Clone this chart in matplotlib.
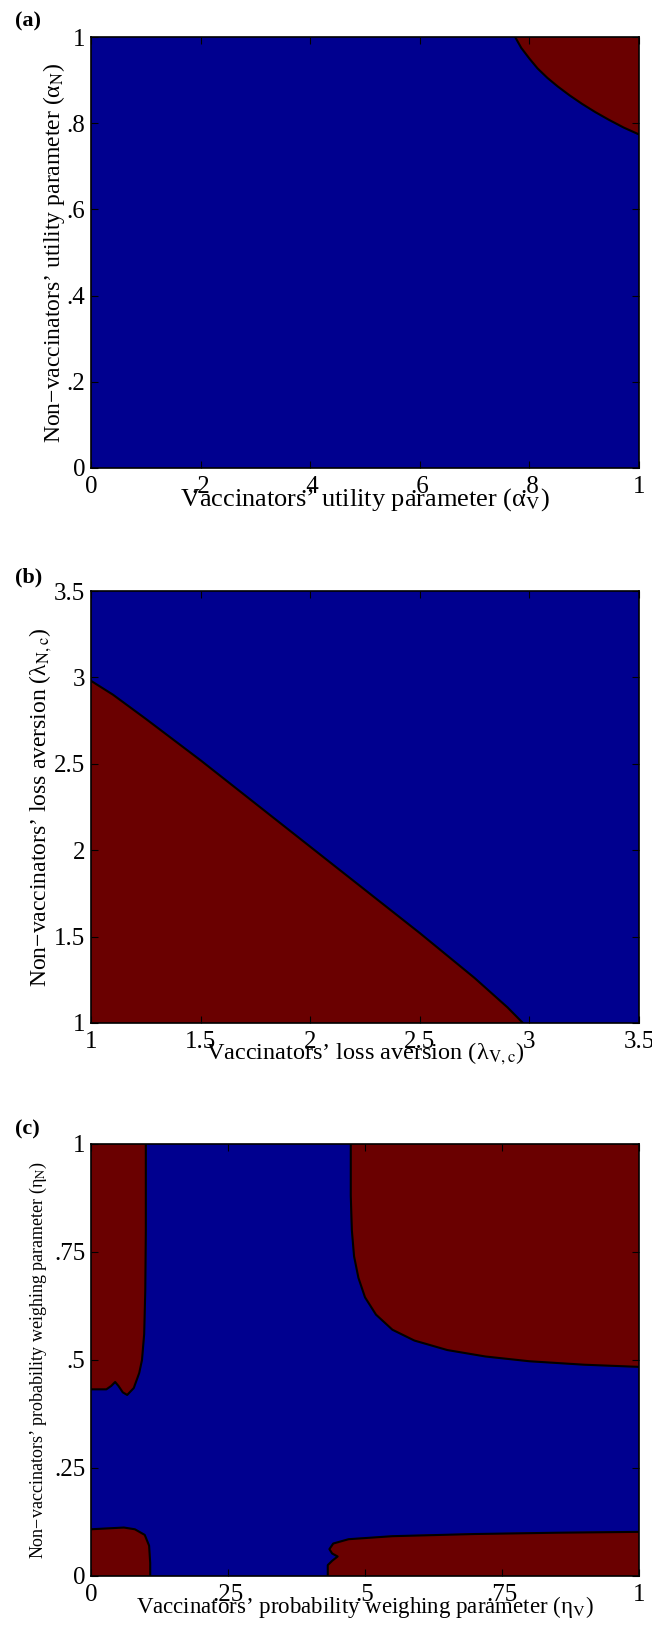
import matplotlib
matplotlib.use("Agg")
import matplotlib.pyplot as plt

plt.rcParams['font.family'] = ['Liberation Serif', 'DejaVu Serif']
plt.rcParams['mathtext.fontset'] = 'stix'

BLUE = '#00008f'
RED = '#6a0000'

# (a) boundary of red region, top-right corner
a_x = [0.774, 0.785, 0.80, 0.815, 0.833, 0.852, 0.873, 0.896, 0.92, 0.945, 0.972, 1.0]
a_y = [1.0, 0.975, 0.95, 0.927, 0.905, 0.885, 0.865, 0.845, 0.826, 0.808, 0.79, 0.774]

# (b) boundary of red region, lower-left
b_x = [1.0, 1.1, 1.25, 1.5, 1.75, 2.0, 2.25, 2.5, 2.75, 2.9, 2.97]
b_y = [2.98, 2.9, 2.76, 2.52, 2.27, 2.02, 1.77, 1.52, 1.26, 1.09, 1.0]

# (c) four red regions
c_tl_x = [0.100, 0.100, 0.099, 0.097, 0.093, 0.088, 0.078, 0.066, 0.058, 0.050, 0.044, 0.037, 0.028, 0.0]
c_tl_y = [1.0, 0.80, 0.66, 0.56, 0.50, 0.47, 0.435, 0.419, 0.425, 0.44, 0.449, 0.44, 0.432, 0.432]

c_bl_x = [0.0, 0.03, 0.06, 0.08, 0.098, 0.106, 0.108, 0.108]
c_bl_y = [0.108, 0.110, 0.112, 0.108, 0.095, 0.07, 0.03, 0.0]

c_br_x = [0.432, 0.432, 0.440, 0.450, 0.440, 0.435, 0.442, 0.47, 0.55, 0.70, 0.85, 1.0]
c_br_y = [0.0, 0.025, 0.035, 0.045, 0.052, 0.062, 0.075, 0.085, 0.092, 0.097, 0.100, 0.102]

c_tr_x = [0.474, 0.474, 0.476, 0.48, 0.488, 0.50, 0.52, 0.55, 0.59, 0.65, 0.72, 0.80, 0.90, 1.0]
c_tr_y = [1.0, 0.88, 0.80, 0.74, 0.69, 0.645, 0.605, 0.57, 0.545, 0.523, 0.508, 0.497, 0.489, 0.484]

a_ticks = [0, 0.2, 0.4, 0.6, 0.8, 1]
a_ticklabels = ['0', '.2', '.4', '.6', '.8', '1']
b_ticks = [1, 1.5, 2, 2.5, 3, 3.5]
b_ticklabels = ['1', '1.5', '2', '2.5', '3', '3.5']
c_ticks = [0, 0.25, 0.5, 0.75, 1]
c_ticklabels = ['0', '.25', '.5', '.75', '1']

fig = plt.figure(figsize=(6.52, 16.25), dpi=100)
ax1 = fig.add_axes([0.1396, 0.712, 0.8405, 0.2652])
ax2 = fig.add_axes([0.1396, 0.3705, 0.8405, 0.2658])
ax3 = fig.add_axes([0.1396, 0.0302, 0.8405, 0.2658])


def style(ax, ticks, labels, lo, hi, fs):
    ax.set_facecolor(BLUE)
    ax.set_xlim(lo, hi)
    ax.set_ylim(lo, hi)
    ax.set_xticks(ticks)
    ax.set_xticklabels(labels, fontsize=fs)
    ax.set_yticks(ticks)
    ax.set_yticklabels(labels, fontsize=fs)
    ax.tick_params(direction='in', top=True, right=True, length=5, width=0.8)
    ax.tick_params(axis='x', pad=6)
    ax.tick_params(axis='y', pad=4)
    for s in ax.spines.values():
        s.set_linewidth(1.2)


# panel (a)
style(ax1, a_ticks, a_ticklabels, 0, 1, 18)
ax1.fill(a_x + [1.0], a_y + [1.0], color=RED, zorder=1)
ax1.plot(a_x, a_y, color='k', lw=1.5, zorder=2)
ax1.set_xlabel("Vaccinators\u2019 utility parameter (\u03b1$_{\\mathrm{V}}$)", fontsize=19, labelpad=-9)
ax1.set_ylabel("Non\u2212vaccinators\u2019 utility parameter (\u03b1$_{\\mathrm{N}}$)", fontsize=17, labelpad=0)

# panel (b)
style(ax2, b_ticks, b_ticklabels, 1, 3.5, 18)
ax2.fill(b_x + [1.0], b_y + [1.0], color=RED, zorder=1)
ax2.plot(b_x, b_y, color='k', lw=1.5, zorder=2)
ax2.set_xlabel("Vaccinators\u2019 loss aversion (\u03bb$_{\\mathrm{V,c}}$)", fontsize=17.5, labelpad=-9)
ax2.set_ylabel("Non\u2212vaccinators\u2019 loss aversion (\u03bb$_{\\mathrm{N,c}}$)", fontsize=17, labelpad=0)

# panel (c)
style(ax3, c_ticks, c_ticklabels, 0, 1, 18)
ax3.fill(c_tl_x + [0.0], c_tl_y + [1.0], color=RED, zorder=1)
ax3.plot(c_tl_x, c_tl_y, color='k', lw=1.5, zorder=2)
ax3.fill(c_bl_x + [0.0], c_bl_y + [0.0], color=RED, zorder=1)
ax3.plot(c_bl_x, c_bl_y, color='k', lw=1.5, zorder=2)
ax3.fill(c_br_x + [1.0], c_br_y + [0.0], color=RED, zorder=1)
ax3.plot(c_br_x, c_br_y, color='k', lw=1.5, zorder=2)
ax3.fill(c_tr_x + [1.0], c_tr_y + [1.0], color=RED, zorder=1)
ax3.plot(c_tr_x, c_tr_y, color='k', lw=1.5, zorder=2)
ax3.set_xlabel("Vaccinators\u2019 probability weighing parameter (\u03b7$_{\\mathrm{V}}$)", fontsize=16.5, labelpad=-9)
ax3.set_ylabel("Non\u2212vaccinators\u2019 probability weighing parameter (\u03b7$_{\\mathrm{N}}$)", fontsize=13, labelpad=4)

fig.text(0.023, 0.993, '(a)', fontsize=16, fontweight='bold', va='top')
fig.text(0.023, 0.651, '(b)', fontsize=16, fontweight='bold', va='top')
fig.text(0.023, 0.311, '(c)', fontsize=16, fontweight='bold', va='top')

fig.savefig('out.png', dpi=100)
